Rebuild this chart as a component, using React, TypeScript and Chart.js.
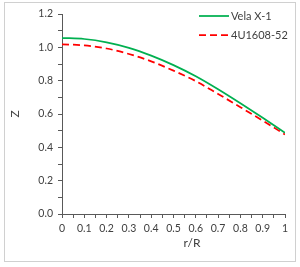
import React, { useEffect, useRef } from "react";
import { Chart, registerables } from "chart.js";

Chart.register(...registerables);

const rValues = [0, 0.1, 0.2, 0.3, 0.4, 0.5, 0.6, 0.7, 0.8, 0.9, 1.0];
const velaZ = [1.056, 1.05, 1.03, 0.997, 0.95, 0.893, 0.826, 0.748, 0.664, 0.577, 0.487];
const u1608Z = [1.018, 1.012, 0.993, 0.96, 0.916, 0.86, 0.797, 0.72, 0.641, 0.56, 0.477];
const seriesLabels = ["Vela X-1", "4U1608-52"];
const xTitle = "r/R";
const yTitle = "Z";

const AXIS = "#595959";
const TEXT = "#404040";
const FONT = "Lato, 'Liberation Sans', sans-serif";

const decorPlugin = {
  id: "decor",
  beforeDraw(chart: any) {
    const ctx = chart.ctx;
    ctx.save();
    ctx.fillStyle = "#ffffff";
    ctx.fillRect(0, 0, chart.width, chart.height);
    ctx.strokeStyle = "#d0d0d0";
    ctx.lineWidth = 1;
    ctx.strokeRect(4.5, 2.5, 291, 259);
    ctx.restore();
  },
  afterDraw(chart: any) {
    const ctx = chart.ctx;
    const area = chart.chartArea;
    ctx.save();
    ctx.fillStyle = TEXT;
    ctx.font = `12px ${FONT}`;
    ctx.textAlign = "center";
    ctx.textBaseline = "middle";
    ctx.fillText(xTitle, 192, 243);
    ctx.save();
    ctx.translate(15, (area.top + area.bottom) / 2);
    ctx.rotate(-Math.PI / 2);
    ctx.fillText(yTitle, 0, 0);
    ctx.restore();
    const ds = chart.data.datasets;
    ctx.font = `11px ${FONT}`;
    ctx.textAlign = "left";
    ds.forEach((d: any, i: number) => {
      const y = 16 + i * 19;
      ctx.beginPath();
      ctx.strokeStyle = d.borderColor;
      ctx.lineWidth = d.borderWidth;
      ctx.setLineDash(d.borderDash || []);
      ctx.moveTo(199, y);
      ctx.lineTo(229, y);
      ctx.stroke();
      ctx.setLineDash([]);
      ctx.fillStyle = TEXT;
      ctx.fillText(d.label, 231, y);
    });
    ctx.restore();
  },
};

export default function App() {
  const ref = useRef<HTMLCanvasElement | null>(null);
  useEffect(() => {
    document.body.style.margin = "0";
    const canvas = ref.current;
    if (!canvas) return;
    const chart = new Chart(canvas, {
      type: "scatter",
      data: {
        datasets: [
          {
            label: seriesLabels[0],
            data: rValues.map((x, i) => ({ x, y: velaZ[i] })),
            showLine: true,
            borderColor: "#00B050",
            backgroundColor: "#00B050",
            borderWidth: 1.75,
            pointRadius: 0,
            cubicInterpolationMode: "monotone",
          },
          {
            label: seriesLabels[1],
            data: rValues.map((x, i) => ({ x, y: u1608Z[i] })),
            showLine: true,
            borderColor: "#FF0000",
            backgroundColor: "#FF0000",
            borderWidth: 1.75,
            borderDash: [7, 4],
            pointRadius: 0,
            cubicInterpolationMode: "monotone",
          },
        ],
      },
      options: {
        responsive: false,
        animation: false,
        layout: { padding: { left: 4, right: 15, top: 14, bottom: 0 } },
        plugins: {
          legend: { display: false },
          tooltip: { enabled: false },
        },
        scales: {
          x: {
            type: "linear",
            min: 0,
            max: 1,
            afterFit: (s: any) => {
              s.height = 53;
            },
            ticks: {
              stepSize: 0.05,
              autoSkip: false,
              maxRotation: 0,
              color: TEXT,
              font: { family: FONT, size: 10.5 },
              padding: 4,
              callback: (v: any) => {
                const n = Math.round(Number(v) * 100);
                if (n % 10 !== 0) return "";
                return String(n / 100);
              },
            },
            grid: {
              display: true,
              drawOnChartArea: false,
              drawTicks: true,
              tickLength: 4,
              tickColor: AXIS,
            },
            border: { display: true, color: AXIS, width: 1 },
          },
          y: {
            type: "linear",
            min: 0,
            max: 1.2,
            afterFit: (s: any) => {
              s.width = 58;
            },
            ticks: {
              stepSize: 0.1,
              autoSkip: false,
              color: TEXT,
              font: { family: FONT, size: 10.5 },
              padding: 5,
              callback: (v: any) => {
                const n = Math.round(Number(v) * 10);
                if (n % 2 !== 0) return "";
                return (n / 10).toFixed(1);
              },
            },
            grid: {
              display: true,
              drawOnChartArea: false,
              drawTicks: true,
              tickLength: 4,
              tickColor: AXIS,
            },
            border: { display: true, color: AXIS, width: 1 },
          },
        },
      } as any,
      plugins: [decorPlugin],
    });
    return () => chart.destroy();
  }, []);
  return (
    <div style={{ width: 300, height: 267 }}>
      <canvas ref={ref} width={300} height={267} style={{ display: "block" }} />
    </div>
  );
}
